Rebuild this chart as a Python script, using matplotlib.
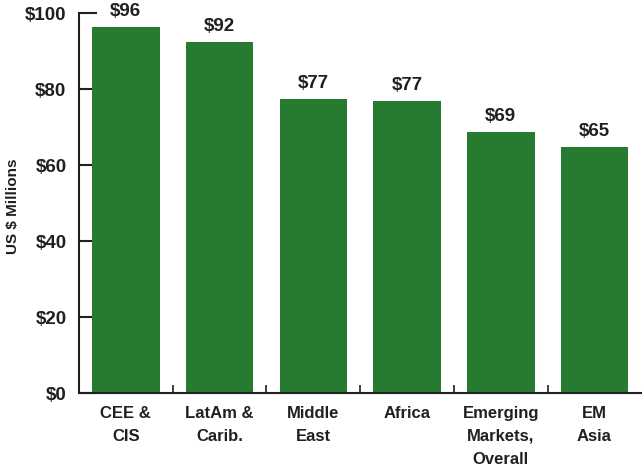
import numpy as np
import matplotlib
matplotlib.use("Agg")
import matplotlib.pyplot as plt
from matplotlib.ticker import FixedLocator

plt.rcParams['font.family'] = ['Liberation Sans Narrow', 'Liberation Sans', 'DejaVu Sans']
plt.rcParams['font.weight'] = 'bold'

# --- data ---
regions = ["CEE &\nCIS", "LatAm &\nCarib.", "Middle\nEast", "Africa",
           "Emerging\nMarkets,\nOverall", "EM\nAsia"]
values = [96.3, 92.4, 77.4, 76.8, 68.7, 64.7]
y_ticks = [0, 20, 40, 60, 80, 100]

bar_color = "#267b30"
ink = "#231f20"

fig = plt.figure(figsize=(6.42, 4.68), dpi=100)
ax = fig.add_axes([0.123, 0.160, 0.876, 0.812])

x = np.arange(len(regions))
ax.bar(x, values, width=0.72, color=bar_color, zorder=2)

for xi, v in zip(x, values):
    ax.text(xi, v + 1.9, f"${v:.0f}", ha="center", va="bottom",
            fontsize=13.5, fontweight="bold", color=ink)

ax.set_xlim(-0.5, len(regions) - 0.5)
ax.set_ylim(0, 100)
ax.set_yticks(y_ticks)
ax.set_yticklabels([f"${t}" for t in y_ticks], fontsize=13.5, color=ink)
ax.tick_params(axis="y", direction="in", length=13, width=1.5, color=ink, pad=9)

# category labels sit under the bars, tick marks go between them
ax.xaxis.set_major_locator(FixedLocator(x[:-1] + 0.5))
ax.set_xticklabels([])
ax.tick_params(axis="x", direction="in", length=6, width=1.2, color=ink)
for xi, lab in zip(x, regions):
    ax.text(xi, -3.3, lab, ha="center", va="top", fontsize=12,
            fontweight="bold", color=ink, linespacing=1.68)

for side in ["top", "right"]:
    ax.spines[side].set_visible(False)
for side in ["left", "bottom"]:
    ax.spines[side].set_color(ink)
    ax.spines[side].set_linewidth(1.5)

fig.text(0.02, 0.56, "US $ Millions", rotation=90, ha="center", va="center",
         fontsize=11, fontweight="bold", color=ink)

fig.savefig("out.png", dpi=100)
